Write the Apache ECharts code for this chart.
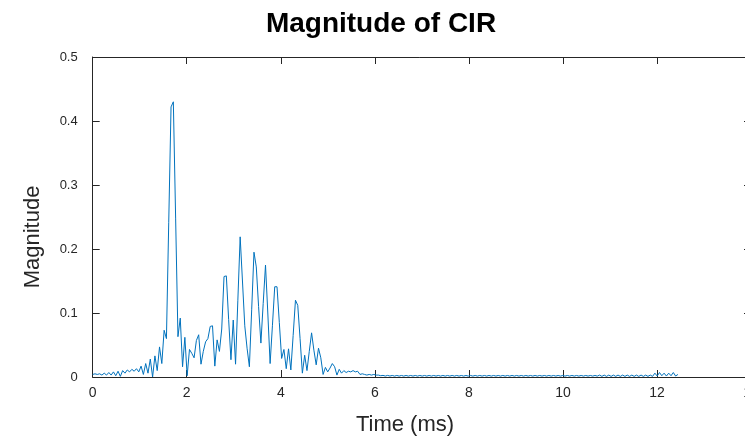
<!DOCTYPE html>
<html><head><meta charset="utf-8">
<script src="https://cdn.jsdelivr.net/npm/echarts@6/dist/echarts.min.js"></script>
<style>html,body{margin:0;padding:0;background:#fff}#chart{width:745px;height:438px}</style>
</head><body><div id="chart"></div>
<script>
const titleText = 'Magnitude of CIR';
const xLabel = 'Time (ms)';
const yLabel = 'Magnitude';
const sampleIntervalMs = 0.049;
const xTicks = [0, 2, 4, 6, 8, 10, 12, 14];
const yTicks = [0, 0.1, 0.2, 0.3, 0.4, 0.5];
const yTickLabels = ['0', '0.1', '0.2', '0.3', '0.4', '0.5'];

// |CIR| samples, one per sample interval
const magnitude = [
  0.004, 0.005, 0.004, 0.005, 0.003, 0.006, 0.003, 0.007, 0.003, 0.008,
  0.002, 0.009, 0.001, 0.010, 0.006, 0.011, 0.008, 0.012, 0.009, 0.013,
  0.008, 0.017, 0.004, 0.021, 0.006, 0.028, 0.000, 0.033, 0.010, 0.047,
  0.021, 0.073, 0.060, 0.241, 0.422, 0.430, 0.247, 0.063, 0.092, 0.016,
  0.062, 0.002, 0.043, 0.037, 0.030, 0.057, 0.066, 0.020, 0.040, 0.055,
  0.060, 0.079, 0.080, 0.017, 0.058, 0.040, 0.075, 0.157, 0.158, 0.090,
  0.027, 0.089, 0.020, 0.120, 0.219, 0.150, 0.080, 0.045, 0.016, 0.105,
  0.195, 0.172, 0.110, 0.053, 0.115, 0.175, 0.100, 0.021, 0.080, 0.141,
  0.141, 0.085, 0.029, 0.043, 0.013, 0.044, 0.011, 0.065, 0.120, 0.112,
  0.060, 0.006, 0.034, 0.010, 0.040, 0.069, 0.042, 0.019, 0.045, 0.030,
  0.004, 0.015, 0.008, 0.014, 0.021, 0.016, 0.003, 0.012, 0.006, 0.010,
  0.007, 0.009, 0.008, 0.010, 0.008, 0.009, 0.004, 0.005, 0.004, 0.003,
  0.004, 0.003, 0.004, 0.003, 0.003, 0.002, 0.0025, 0.0015, 0.0025, 0.0015,
  0.0024, 0.0014, 0.0024, 0.0014, 0.0024, 0.0014, 0.0024, 0.0014, 0.0024, 0.0014,
  0.0024, 0.0014, 0.0024, 0.0014, 0.0024, 0.0014, 0.0024, 0.0014, 0.0024, 0.0014,
  0.0024, 0.0014, 0.0024, 0.0014, 0.0024, 0.0014, 0.0024, 0.0014, 0.0024, 0.0014,
  0.0024, 0.0014, 0.0024, 0.0014, 0.0024, 0.0014, 0.0024, 0.0014, 0.0024, 0.0014,
  0.0024, 0.0014, 0.0024, 0.0014, 0.0024, 0.0014, 0.0024, 0.0014, 0.0024, 0.0014,
  0.0024, 0.0014, 0.0024, 0.0014, 0.0024, 0.0014, 0.0024, 0.0014, 0.0024, 0.0014,
  0.0024, 0.0014, 0.0024, 0.0014, 0.0024, 0.0014, 0.0024, 0.0014, 0.0024, 0.0014,
  0.0024, 0.0014, 0.0024, 0.0014, 0.0024, 0.0014, 0.0024, 0.0014, 0.0024, 0.0014,
  0.0024, 0.0014, 0.0024, 0.0014, 0.0024, 0.0014, 0.0024, 0.0014, 0.0024, 0.0014,
  0.003, 0.001, 0.003, 0.001, 0.003, 0.001, 0.003, 0.001, 0.003, 0.001,
  0.003, 0.001, 0.003, 0.001, 0.003, 0.001, 0.003, 0.001, 0.003, 0.001,
  0.003, 0.001, 0.003, 0.001, 0.006, 0.0015, 0.007, 0.002, 0.006, 0.0015,
  0.006, 0.002, 0.007, 0.0015, 0.004
];

const seriesData = magnitude.map((v, i) => [i * sampleIntervalMs, v]);

const axisColor = '#262626';
const font = '"Liberation Sans", Arial, sans-serif';
const xMin = xTicks[0], xMax = xTicks[xTicks.length - 1], xStep = xTicks[1] - xTicks[0];
const yMin = yTicks[0], yMax = yTicks[yTicks.length - 1], yStep = yTicks[1] - yTicks[0];

const chart = echarts.init(document.getElementById('chart'), null, { renderer: 'canvas' });
const baseX = {
  type: 'value', min: xMin, max: xMax, interval: xStep,
  axisLine: { show: true, onZero: false, lineStyle: { color: axisColor, width: 1 } },
  axisTick: { show: true, inside: true, length: 7, lineStyle: { color: axisColor } },
  splitLine: { show: false }
};
const baseY = {
  type: 'value', min: yMin, max: yMax, interval: yStep,
  axisLine: { show: true, onZero: false, lineStyle: { color: axisColor, width: 1 } },
  axisTick: { show: true, inside: true, length: 7, lineStyle: { color: axisColor } },
  splitLine: { show: false }
};
chart.setOption({
  animation: false,
  backgroundColor: '#ffffff',
  grid: { left: 92.7, right: -6, top: 57, bottom: 61, containLabel: false, outerBoundsMode: 'none' },
  xAxis: [
    Object.assign({}, baseX, { position: 'bottom',
      axisLabel: { color: axisColor, fontSize: 14, fontFamily: font, margin: 9 } }),
    Object.assign({}, baseX, { position: 'top', axisLabel: { show: false } })
  ],
  yAxis: [
    Object.assign({}, baseY, { position: 'left',
      axisLabel: { color: axisColor, fontSize: 13, fontFamily: font, margin: 15,
        formatter: v => yTickLabels[yTicks.findIndex(t => Math.abs(t - v) < 1e-9)] ?? '' } }),
    Object.assign({}, baseY, { position: 'right', axisLabel: { show: false } })
  ],
  series: [{
    type: 'line', xAxisIndex: 0, yAxisIndex: 0,
    data: seriesData, showSymbol: false, symbol: 'none',
    lineStyle: { color: '#0072BD', width: 1 }, z: 3
  }],
  graphic: [
    { type: 'text', x: 381, y: 24, style: { text: titleText, font: 'bold 28px ' + font, fill: '#000000', textAlign: 'center', textVerticalAlign: 'middle', align: 'center', verticalAlign: 'middle' } },
    { type: 'text', x: 405, y: 425, style: { text: xLabel, font: '22px ' + font, fill: axisColor, textAlign: 'center', textVerticalAlign: 'middle', align: 'center', verticalAlign: 'middle' } },
    { type: 'text', x: 33, y: 237, rotation: Math.PI / 2, style: { text: yLabel, font: '22px ' + font, fill: axisColor, textAlign: 'center', textVerticalAlign: 'middle', align: 'center', verticalAlign: 'middle' } }
  ]
});
</script>
</body></html>
